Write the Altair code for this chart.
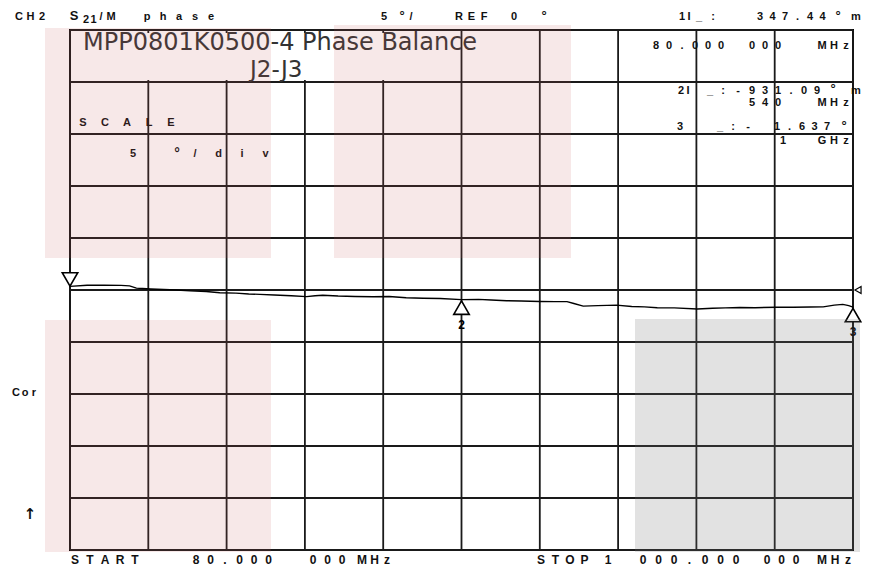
import altair as alt
import pandas as pd

# ---------------- data ----------------
freq_mhz = [80, 100, 120, 140, 150, 158, 165, 175, 190, 205, 221, 240, 256, 275, 290,
            303, 320, 340, 358, 368, 377, 395, 415, 436, 455, 475, 495, 515, 540, 560,
            575, 593, 610, 632, 650, 664, 672, 683, 700, 722, 740, 755, 770, 790, 817,
            835, 850, 867, 885, 910, 930, 950, 965, 978, 988, 995, 1000]
phase_deg = [0.35, 0.45, 0.45, 0.44, 0.40, 0.18, 0.15, 0.10, 0.05, 0.0, -0.08, -0.15, -0.26,
             -0.30, -0.38, -0.42, -0.48, -0.55, -0.64, -0.55, -0.50, -0.58, -0.62, -0.65,
             -0.62, -0.75, -0.80, -0.82, -0.93, -0.90, -0.96, -1.03, -1.06, -1.10, -1.12,
             -1.12, -1.30, -1.55, -1.50, -1.45, -1.58, -1.62, -1.70, -1.72, -1.82, -1.76,
             -1.72, -1.68, -1.70, -1.66, -1.66, -1.64, -1.62, -1.45, -1.38, -1.50, -1.64]

marker_freq = [80, 540, 1000]
marker_phase = [0.347, -0.931, -1.637]
marker_label = ["1", "2", "3"]

freq_grid = [80, 172, 264, 356, 448, 540, 632, 724, 816, 908, 1000]
phase_grid = [-25, -20, -15, -10, -5, 0, 5, 10, 15, 20, 25]
ref_level = [0]

title_lines = ["MPP0801K0500-4 Phase Balance", "J2-J3"]

# ---------------- layout ----------------
W, H = 783, 520
OX, OY = 70, 30  # plot-area origin on the page

# instrument annotation glyph runs: text, first char x, pitch, y, font size
glyph_runs = [
    ("CH2", 19, 11.5, 17, 11),
    ("S", 74, 0, 16, 13),
    ("21", 86, 7.5, 20, 11),
    ("/", 101, 0, 17, 11),
    ("M", 111, 0, 17, 11),
    ("phase", 147, 16, 17, 11),
    ("5", 384, 0, 17, 11),
    ("°", 402, 0, 16, 13),
    ("/", 411, 0, 17, 11),
    ("REF", 459, 12.5, 17, 11),
    ("0", 514, 0, 17, 11),
    ("°", 544, 0, 16, 13),
    ("1", 682, 0, 17, 11),
    ("I", 689, 0, 17, 11),
    ("_", 699, 0, 17, 11),
    (":", 713, 0, 17, 11),
    ("347.44", 760, 12.5, 17, 11),
    ("°", 838, 0, 16, 13),
    ("m", 856, 0, 17, 11),
    ("80.000", 656, 13, 46, 11),
    ("000", 752, 13, 46, 11),
    ("MHz", 822, 12, 46, 11),
    ("2", 681, 0, 91, 11),
    ("I", 688, 0, 91, 11),
    ("_", 710, 0, 91, 11),
    (":", 723, 0, 91, 11),
    ("-", 738, 0, 91, 11),
    ("931.09", 752, 13, 91, 11),
    ("°", 833, 0, 89, 13),
    ("m", 856, 0, 91, 11),
    ("540", 752, 13, 103, 11),
    ("MHz", 822, 12, 103, 11),
    ("3", 680, 0, 127, 11),
    ("_", 720, 0, 127, 11),
    (":", 733, 0, 127, 11),
    ("-", 748, 0, 127, 11),
    ("1.637", 777, 12.5, 127, 11),
    ("°", 844, 0, 126, 13),
    ("1", 783, 0, 141, 11),
    ("GHz", 822, 12, 141, 11),
    ("SCALE", 83, 22, 123, 11),
    ("5", 133, 0, 154, 11),
    ("°", 177, 0, 154, 14),
    ("/div", 195, 23.5, 154, 11),
    ("Cor", 16, 9, 393, 11),
    ("START", 75, 15, 560, 12),
    ("80.000", 196, 14.5, 560, 12),
    ("000", 313, 14.5, 560, 12),
    ("MHz", 362, 12.5, 560, 12),
    ("STOP", 541, 14.5, 560, 12),
    ("1", 608, 0, 560, 12),
    ("000.000", 643, 15.5, 560, 12),
    ("000", 767, 14.5, 560, 12),
    ("MHz", 822, 13, 560, 12),
]

rows = []
for text, x0, pitch, y, fs in glyph_runs:
    for i, ch in enumerate(text):
        if ch != " ":
            rows.append({"px": x0 + i * pitch - OX, "py": y - OY, "ch": ch, "fs": fs})
glyph_df = pd.DataFrame(rows)

arrow_df = pd.DataFrame({"ch": ["↑"], "px": [30 - OX], "py": [514 - OY]})

# overlay patches on the screenshot (page coords)
pink_boxes = pd.DataFrame({
    "x1": [45 - OX, 334 - OX, 45 - OX],
    "x2": [271 - OX, 571 - OX, 271 - OX],
    "y1": [28 - OY, 25 - OY, 320 - OY],
    "y2": [258 - OY, 258 - OY, 552 - OY],
})
grey_box = pd.DataFrame({"x1": [635 - OX], "x2": [860 - OX], "y1": [319 - OY], "y2": [552 - OY]})
title_box = pd.DataFrame({"x1": [72 - OX], "x2": [459 - OX], "y1": [33 - OY], "y2": [80 - OY]})
title_df = pd.DataFrame({"t": title_lines, "px": [83 - OX, 250 - OX], "py": [50 - OY, 77 - OY],
                         "fs": [24, 23]})

# ---------------- chart ----------------
xs = alt.Scale(domain=[80, 1000], nice=False, zero=False)
ys = alt.Scale(domain=[-25, 25], nice=False, zero=False)
X = alt.X("freq:Q", scale=xs, axis=None)
Y = alt.Y("deg:Q", scale=ys, axis=None)
PX = alt.X("px:Q", scale=None, axis=None)
PY = alt.Y("py:Q", scale=None, axis=None)

trace_df = pd.DataFrame({"freq": freq_mhz, "deg": phase_deg})
mk_df = pd.DataFrame({"freq": marker_freq, "deg": marker_phase, "label": marker_label})


def px_rect(df, **kw):
    return alt.Chart(df).mark_rect(**kw).encode(
        x=alt.X("x1:Q", scale=None, axis=None), x2="x2:Q",
        y=alt.Y("y1:Q", scale=None, axis=None), y2="y2:Q")


grid_v = alt.Chart(pd.DataFrame({"freq": freq_grid})).mark_rule(
    color="#1a1a1a", strokeWidth=1.8).encode(x=X)
grid_h = alt.Chart(pd.DataFrame({"deg": phase_grid})).mark_rule(
    color="#1a1a1a", strokeWidth=1.8).encode(y=Y)

white_box = px_rect(title_box, fill="white")

titles = alt.Chart(title_df).mark_text(
    align="left", baseline="alphabetic", font="DejaVu Sans", color="#333333"
).encode(x=PX, y=PY, text="t:N", size=alt.Size("fs:Q", scale=None, legend=None))

trace = alt.Chart(trace_df).mark_line(color="black", strokeWidth=1.4).encode(x=X, y=Y)

m_down = alt.Chart(mk_df).transform_filter(alt.datum.label == "1").mark_point(
    shape="triangle-down", size=240, filled=True, fill="white", stroke="black",
    strokeWidth=1.6, opacity=1, yOffset=-7).encode(x=X, y=Y)
m_up = alt.Chart(mk_df).transform_filter(alt.datum.label != "1").mark_point(
    shape="triangle-up", size=240, filled=True, fill="white", stroke="black",
    strokeWidth=1.6, opacity=1, yOffset=8).encode(x=X, y=Y)
m_num = alt.Chart(mk_df).transform_filter(alt.datum.label != "1").mark_text(
    dy=25, fontSize=12, fontWeight="bold", font="Liberation Sans", color="black"
).encode(x=X, y=Y, text="label:N")

ref_mark = alt.Chart(pd.DataFrame({"freq": [1000], "deg": ref_level})).mark_point(
    shape="triangle-left", size=50, filled=True, fill="white", stroke="black",
    strokeWidth=1.2, opacity=1, xOffset=5).encode(x=X, y=Y)

glyphs = alt.Chart(glyph_df).mark_text(
    font="Liberation Sans", fontWeight="bold", color="#111111", align="center", baseline="middle"
).encode(x=PX, y=PY, text="ch:N", size=alt.Size("fs:Q", scale=None, legend=None))

arrow = alt.Chart(arrow_df).mark_text(
    font="DejaVu Sans", fontWeight="bold", fontSize=15, color="#111111",
    align="center", baseline="middle"
).encode(x=PX, y=PY, text="ch:N")

pink = px_rect(pink_boxes, fill="#c85a5a", opacity=0.14)
grey = px_rect(grey_box, fill="#777777", opacity=0.21)

chart = alt.layer(
    grid_v, grid_h, white_box, titles, trace, m_down, m_up, m_num, ref_mark, glyphs, arrow,
    pink, grey
).properties(
    width=W, height=H,
    autosize=alt.AutoSizeParams(type="none"),
    padding={"left": 62, "top": 22, "right": 9, "bottom": 16},
    background="white",
).configure_view(stroke="black", strokeWidth=2)

chart.save("out.html", embed_options={"renderer": "svg", "actions": False})
